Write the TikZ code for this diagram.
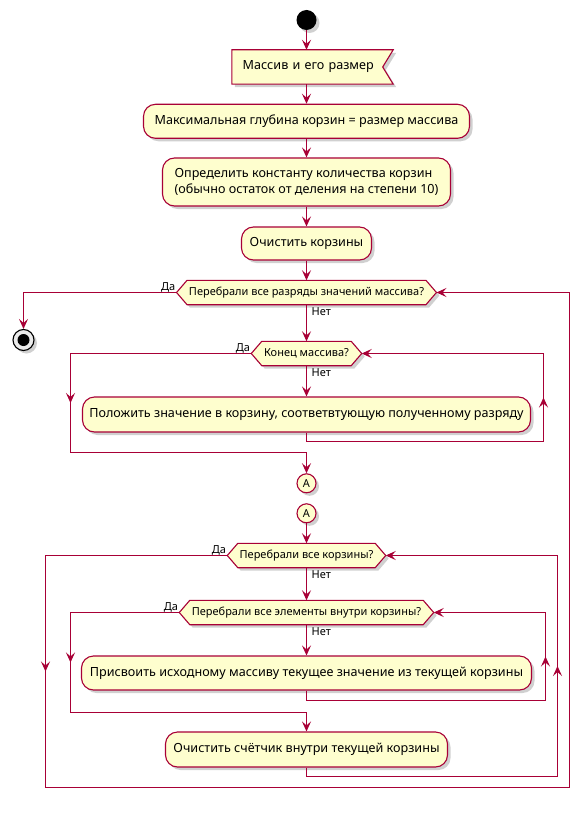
\documentclass[tikz,border=0pt]{standalone}
\usepackage{fontspec}
\setmainfont{Noto Sans}
\usetikzlibrary{arrows.meta,shadows,backgrounds,calc}
\definecolor{brd}{HTML}{A80036}
\definecolor{bg}{HTML}{FEFECE}
\tikzset{
  every node/.style={font=\fontsize{12.6}{15.5}\selectfont},
  shd/.style={drop shadow={shadow xshift=3pt,shadow yshift=-3pt,opacity=0.3,fill=black!60}},
  actbox/.style={draw=brd, fill=bg, line width=1.1pt, rounded corners=12pt, shd, inner sep=0pt, align=center},
  decnode/.style={inner sep=0pt, minimum height=24pt, font=\fontsize{11}{13}\selectfont},
  decshape/.style={draw=brd, fill=bg, line width=1.1pt, shd},
  conn/.style={draw=brd, line width=1.2pt},
  arr/.style={conn, -{Stealth[length=10pt,width=9pt,inset=4pt]}},
  lbl/.style={font=\fontsize{11}{13}\selectfont, inner sep=0pt},
  conncirc/.style={circle, draw=brd, fill=bg, line width=1.1pt, minimum size=19pt, inner sep=0pt, shd, font=\fontsize{11}{13}\selectfont},
}
\begin{document}
\begin{tikzpicture}[x=1pt,y=-1pt]
\useasboundingbox (0,0) rectangle (582,821);

% nodes
\node[circle, fill=black, minimum size=20pt, inner sep=0pt, shd] (start) at (306.5,20) {};
\node[minimum height=34pt, inner xsep=10.7pt, inner ysep=0pt, text width=139.6pt, align=left] (input) at (312.5,67) {Массив и его размер};
\node[actbox, minimum width=326pt, minimum height=34pt] (act1) at (306.5,121.3) {Максимальная глубина корзин = размер массива};
\node[actbox, minimum width=288pt, minimum height=48pt, align=left] (act2) at (306.5,182) {Определить константу количества корзин\\(обычно остаток от деления на степени 10)};
\node[actbox, minimum width=130pt, minimum height=33pt] (act3) at (306.5,243.5) {Очистить корзины};
\node[decnode, minimum width=238.5pt] (dec1) at (306.5,292.5) {Перебрали все разряды значений массива?};
\node[circle, draw=black, fill=black!8, line width=1.1pt, minimum size=21pt, inner sep=0pt, shd,
      path picture={\fill[black] (path picture bounding box.center) circle (6pt);}] (stop) at (23.5,340) {};
\node[decnode, minimum width=89pt] (dec2) at (306.5,353.5) {Конец массива?};
\node[actbox, minimum width=448pt, minimum height=35pt] (act4) at (306.5,414.5) {Положить значение в корзину, соответвтующую полученному разряду};
\node[conncirc] (A1) at (306.5,483.3) {A};
\node[conncirc] (A2) at (306.5,513.3) {A};
\node[decnode, minimum width=137pt] (dec3) at (306.5,555.5) {Перебрали все корзины?};
\node[decnode, minimum width=233pt] (dec4) at (306.5,612.5) {Перебрали все элементы внутри корзины?};
\node[actbox, minimum width=450pt, minimum height=34pt] (act5) at (306.5,673) {Присвоить исходному массиву текущее значение из текущей корзины};
\node[actbox, minimum width=282pt, minimum height=35pt] (act6) at (306.5,749.5) {Очистить счётчик внутри текущей корзины};

% decision tips
\foreach \d in {dec1,dec2,dec3,dec4} {
  \coordinate (\d-W) at ($(\d.west)+(-10.5,0)$);
  \coordinate (\d-E) at ($(\d.east)+(10.5,0)$);
}

\begin{scope}[on background layer]
  \fill[white] (0,0) rectangle (582,821);
  \draw[decshape] (input.north west) -- (input.north east) -- ($(input.east)+(-10.5,0)$) -- (input.south east) -- (input.south west) -- cycle;
  \foreach \d in {dec1,dec2,dec3,dec4} {
    \draw[decshape] (\d-W) -- (\d.north west) -- (\d.north east) -- (\d-E) -- (\d.south east) -- (\d.south west) -- cycle;
  }
\end{scope}

% loop corner coordinates
\coordinate (l2) at (70.5,452.5);
\coordinate (r2) at (543.5,441.5);
\coordinate (l3) at (45.5,787.5);
\coordinate (r3) at (569.5,787.5);
\coordinate (l4) at (70.5,712.5);
\coordinate (r4) at (545.5,700.5);
\coordinate (r5) at (557.5,776.5);

% main flow
\draw[arr] (start.south) -- (start.south |- input.north);
\draw[arr] (start.south |- input.south) -- (act1.north);
\draw[arr] (act1.south) -- (act2.north);
\draw[arr] (act2.south) -- (act3.north);
\draw[arr] (act3.south) -- (dec1.north);
\draw[arr] (dec1.south) -- (dec2.north);
\draw[arr] (dec2.south) -- (act4.north);
\draw[arr] (A2.south) -- (dec3.north);
\draw[arr] (dec3.south) -- (dec4.north);
\draw[arr] (dec4.south) -- (act5.north);

% dec1 yes -> stop
\draw[arr] (dec1-W) -| (stop.north);

% inner loop 1
\draw[arr] (dec2-W) -| (l2) -| (A1.north);
\coordinate (m2l) at ($(dec2-W -| l2)!0.5!(l2)$);
\draw[arr] ($(m2l)+(0,-2)$) -- (m2l);
\draw[arr] (act4.south) |- (r2) |- (dec2-E);
\coordinate (m2r) at ($(r2)!0.5!(r2 |- dec2-E)$);
\draw[arr] ($(m2r)+(0,2)$) -- (m2r);

% outer loop 2
\draw[arr] (dec3-W) -| (l3) -- (r3) |- (dec1-E);
\coordinate (m3l) at ($(dec3-W -| l3)!0.5!(l3)$);
\draw[arr] ($(m3l)+(0,-2)$) -- (m3l);

% inner loop 2
\draw[arr] (dec4-W) -| (l4) -| (act6.north);
\coordinate (m4l) at ($(dec4-W -| l4)!0.5!(l4)$);
\draw[arr] ($(m4l)+(0,-2)$) -- (m4l);
\draw[arr] (act5.south) |- (r4) |- (dec4-E);
\coordinate (m4r) at ($(r4)!0.5!(r4 |- dec4-E)$);
\draw[arr] ($(m4r)+(0,2)$) -- (m4r);
\draw[arr] (act6.south) |- (r5) |- (dec3-E);
\coordinate (m5r) at ($(r5)!0.5!(r5 |- dec3-E)$);
\draw[arr] ($(m5r)+(0,2)$) -- (m5r);

% labels
\node[lbl, anchor=base east] (da1) at ($(dec1-W)+(-1,-2)$) {Да};
\node[lbl, anchor=base east] (da2) at ($(dec2-W)+(-1,-2)$) {Да};
\node[lbl, anchor=base east] (da3) at ($(dec3-W)+(-1,-2)$) {Да};
\node[lbl, anchor=base east] (da4) at ($(dec4-W)+(-1,-2)$) {Да};
\node[lbl, anchor=base west] (net1) at ($(dec1.south)+(5,11)$) {Нет};
\node[lbl, anchor=base west] (net2) at ($(dec2.south)+(5,11)$) {Нет};
\node[lbl, anchor=base west] (net3) at ($(dec3.south)+(5,11)$) {Нет};
\node[lbl, anchor=base west] (net4) at ($(dec4.south)+(5,11)$) {Нет};
\end{tikzpicture}
\end{document}
